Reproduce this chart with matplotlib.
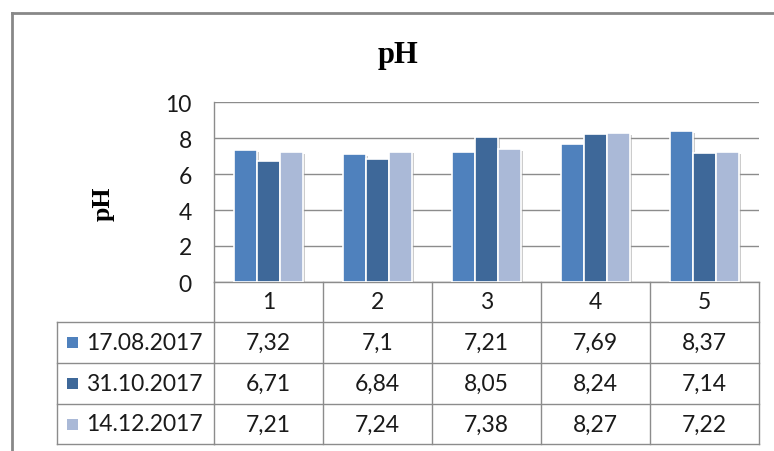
import matplotlib
matplotlib.use("Agg")
import matplotlib.pyplot as plt
import matplotlib.transforms as mtransforms
from matplotlib.patches import Rectangle
from matplotlib.lines import Line2D
import matplotlib.patheffects as pe
import numpy as np

categories = ["1", "2", "3", "4", "5"]
series_names = ["17.08.2017", "31.10.2017", "14.12.2017"]
s1 = [7.32, 7.1, 7.21, 7.69, 8.37]
s2 = [6.71, 6.84, 8.05, 8.24, 7.14]
s3 = [7.21, 7.24, 7.38, 8.27, 7.22]
value_labels = [
    ["7,32", "7,1", "7,21", "7,69", "8,37"],
    ["6,71", "6,84", "8,05", "8,24", "7,14"],
    ["7,21", "7,24", "7,38", "8,27", "7,22"],
]
yticks = [0, 2, 4, 6, 8, 10]
colors = ["#4F81BD", "#3E6899", "#AAB9D7"]
title = "pH"
ylabel = "pH"

W, H = 774, 452
fig = plt.figure(figsize=(W / 100, H / 100), dpi=100)
fig.patch.set_facecolor("white")

LINE = "#8C8C8C"
FONT = ["Lato", "DejaVu Sans"]
FS = 16.5
TXT = "#1a1a1a"

# plot area
left, right, top, bottom = 214, 759, 103, 283
ax = fig.add_axes([left / W, 1 - bottom / H, (right - left) / W, (bottom - top) / H])
n = len(categories)
x = np.arange(n)
bw = 0.214
data = [s1, s2, s3]
offs = [-bw, 0, bw]
shadow = [pe.SimplePatchShadow(offset=(1.2, -1.2), shadow_rgbFace="#9a9a9a", alpha=0.5), pe.Normal()]
for vals, off, c in zip(data, offs, colors):
    bars = ax.bar(x + off, vals, width=bw, color=c, edgecolor="white", linewidth=1.2, zorder=3)
    for b in bars:
        b.set_path_effects(shadow)

ax.set_xlim(-0.5, n - 0.5)
ax.set_ylim(0, 10)
ax.set_yticks(yticks)
ax.set_yticklabels([str(t) for t in yticks], fontsize=FS, family=FONT, color=TXT)
ax.tick_params(axis="y", length=0, pad=16)
ax.set_xticks([])
ax.grid(axis="y", color=LINE, linewidth=1, zorder=0)
ax.set_axisbelow(True)
for s in ["top", "right"]:
    ax.spines[s].set_visible(False)
for s in ["left", "bottom"]:
    ax.spines[s].set_color(LINE)
    ax.spines[s].set_linewidth(1)

# table
tr = mtransforms.blended_transform_factory(ax.transData, fig.transFigure)
row_y = [283, 323, 364, 405, 445]
hdr_left = 57

def fy(y):
    return 1 - y / H

for i in range(n + 1):
    xb = -0.5 + i
    ax.add_line(Line2D([xb, xb], [fy(row_y[0]), fy(row_y[-1])], transform=tr, color=LINE, lw=1, clip_on=False))
for y in row_y[1:]:
    ax.add_line(Line2D([-0.5, n - 0.5], [fy(y), fy(y)], transform=tr, color=LINE, lw=1, clip_on=False))
for y in row_y[1:]:
    fig.add_artist(Line2D([hdr_left / W, left / W], [fy(y), fy(y)], color=LINE, lw=1))
fig.add_artist(Line2D([hdr_left / W, hdr_left / W], [fy(row_y[1]), fy(row_y[-1])], color=LINE, lw=1))

for i, c in enumerate(categories):
    ax.text(i, fy((row_y[0] + row_y[1]) / 2), c, transform=tr, ha="center", va="center",
            fontsize=FS, family=FONT, color=TXT)
for r in range(3):
    ycpx = (row_y[r + 1] + row_y[r + 2]) / 2
    yc = fy(ycpx)
    for i in range(n):
        ax.text(i, yc, value_labels[r][i], transform=tr, ha="center", va="center",
                fontsize=FS, family=FONT, color=TXT)
    sq = 11
    fig.add_artist(Rectangle((67 / W, 1 - (ycpx + sq / 2) / H), sq / W, sq / H,
                             facecolor=colors[r], edgecolor="none", transform=fig.transFigure))
    fig.text(86 / W, yc, series_names[r], ha="left", va="center", fontsize=FS, family=FONT, color=TXT)

fig.text(398 / W, fy(55), title, ha="center", va="center", fontsize=22, fontweight="bold",
         family=["Liberation Serif", "DejaVu Serif"])
fig.text(103 / W, fy(204), ylabel, ha="center", va="center", rotation=90, fontsize=18.5, fontweight="bold",
         family=["Liberation Serif", "DejaVu Serif"])

fig.add_artist(Line2D([12 / W, 12 / W], [fy(14), 0], color="#888888", lw=2))
fig.add_artist(Line2D([12 / W, 1], [fy(14), fy(14)], color="#888888", lw=2))

fig.savefig("out.png", dpi=100, facecolor="white")
